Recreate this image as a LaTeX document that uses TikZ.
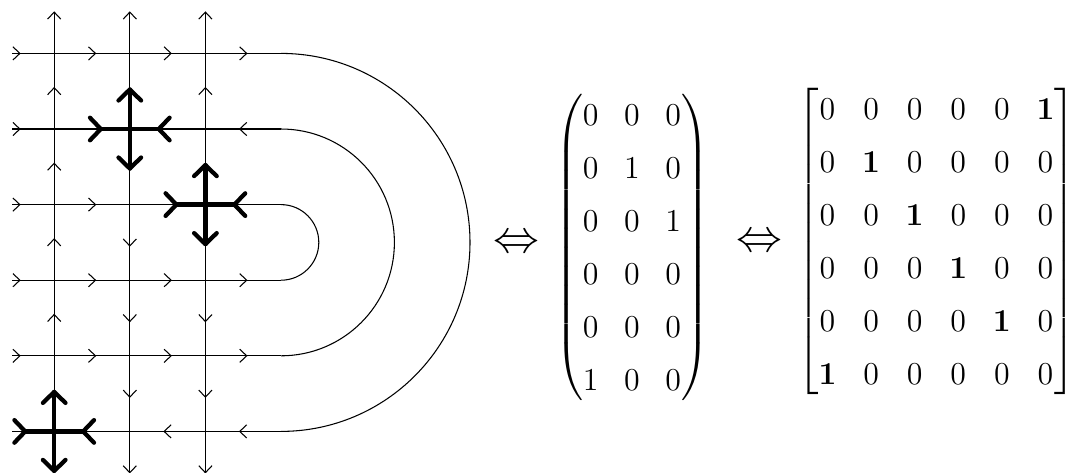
\documentclass[tikz,border=0pt]{standalone}
\usepackage{amsmath}
\begin{document}
\begin{tikzpicture}[x=0.37636pt,y=-0.37636pt,
  lat/.style={line width=0.4pt},
  arm/.style={line width=1.6pt,line cap=round,line join=round},
  mathtext/.style={inner sep=0pt,font=\fontsize{12}{14.5}\selectfont},
  equiv/.style={inner sep=0pt,font=\fontsize{17.6}{21}\selectfont}]
\useasboundingbox (0,0) rectangle (1066,472);
\def\u{75.6}
\def\ya{53.4}
% lattice points: columns i = 0..2, rows j = 0..5
\foreach \i in {0,1,2}{
  \foreach \j in {0,...,5}{
    \coordinate (p-\i-\j) at ({54.2+\u*\i},{\ya+\u*\j});
  }
}
% horizontal lines and the nested half circles joining rows
\foreach \j in {0,...,5}{
  \coordinate (h-\j) at (12,{\ya+\u*\j});
  \coordinate (e-\j) at ({54.2+3*\u},{\ya+\u*\j});
  \draw[lat] (h-\j) -- (e-\j);
}
\foreach \j/\r in {0/189,1/113.4,2/37.8}{
  \draw[lat] (e-\j) arc[start angle=-90,end angle=90,radius=\r];
}
% vertical lines
\foreach \i in {0,1,2}{
  \coordinate (t-\i) at ({54.2+\u*\i},12);
  \coordinate (b-\i) at ({54.2+\u*\i},474);
  \draw[lat] (t-\i) -- (b-\i);
}
% chevrons on horizontal edges: row / column slot / direction (+1 right, -1 left)
\foreach \j/\k/\d in {
  0/0/1,0/1/1,0/2/1,0/3/1,
  1/0/1,1/3/-1,
  2/0/1,2/1/1,
  3/0/1,3/1/1,3/2/1,3/3/1,
  4/0/1,4/1/1,4/2/1,4/3/1,
  5/2/-1,5/3/-1}{
  \pgfmathsetmacro\tx{16.4+\u*\k+3.5*\d}
  \pgfmathsetmacro\ty{\ya+\u*\j}
  \draw[lat] ({\tx-7*\d},{\ty-6.6}) -- (\tx,\ty) -- ({\tx-7*\d},{\ty+6.6});
}
% chevrons on vertical edges: column / row slot / direction (+1 down, -1 up)
\foreach \i/\k/\d in {
  0/0/-1,0/1/-1,0/2/-1,0/3/-1,0/4/-1,
  1/0/-1,1/3/1,1/4/1,1/5/1,1/6/1,
  2/0/-1,2/1/-1,2/4/1,2/5/1,2/6/1}{
  \pgfmathsetmacro\tx{54.2+\u*\i}
  \pgfmathsetmacro\ty{15.6+\u*\k+3.5*\d}
  \draw[lat] ({\tx-6.6},{\ty-7*\d}) -- (\tx,\ty) -- ({\tx+6.6},{\ty-7*\d});
}
% marked vertices: horizontal arrows point in, vertical arrows point out
\foreach \i/\j in {1/1,2/2,0/5}{
  \begin{scope}[shift={(p-\i-\j)}]
    \draw[arm] (-29,0) -- (29,0);
    \draw[arm] (0,-39.5) -- (0,39.5);
    \draw[arm] (-11.3,-28.5) -- (0,-39.5) -- (11.3,-28.5);
    \draw[arm] (-11.3,28.5) -- (0,39.5) -- (11.3,28.5);
    \draw[arm] (-39.8,-11.3) -- (-29,0) -- (-39.8,11.3);
    \draw[arm] (39.8,-11.3) -- (29,0) -- (39.8,11.3);
  \end{scope}
}
% equivalent matrix forms
\setlength{\arraycolsep}{4.83pt}
\renewcommand{\arraystretch}{1.376}
\node[equiv] (eqa) at (516.5,244) {$\Leftrightarrow$};
\node[mathtext] (small) at (632,247.5) {$\begin{pmatrix}
0 & 0 & 0\\ 0 & 1 & 0\\ 0 & 0 & 1\\ 0 & 0 & 0\\ 0 & 0 & 0\\ 1 & 0 & 0
\end{pmatrix}$};
\node[equiv] (eqb) at (759,243.5) {$\Leftrightarrow$};
\node[mathtext] (big) at (936.5,241.5) {$\begin{bmatrix}
0 & 0 & 0 & 0 & 0 & \mathbf{1}\\
0 & \mathbf{1} & 0 & 0 & 0 & 0\\
0 & 0 & \mathbf{1} & 0 & 0 & 0\\
0 & 0 & 0 & \mathbf{1} & 0 & 0\\
0 & 0 & 0 & 0 & \mathbf{1} & 0\\
\mathbf{1} & 0 & 0 & 0 & 0 & 0
\end{bmatrix}$};
\end{tikzpicture}
\end{document}
